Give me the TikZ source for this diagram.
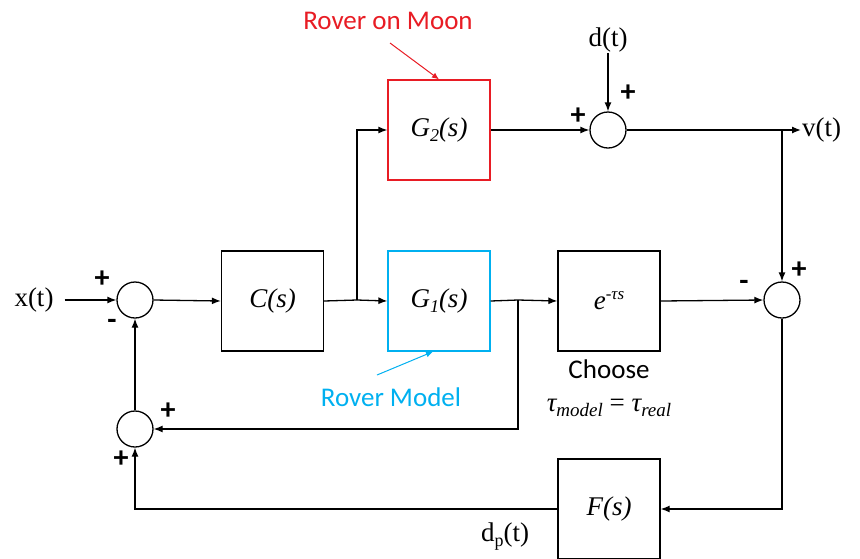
\documentclass[tikz,border=0pt]{standalone}
\usepackage{fontspec}
\setmainfont{Liberation Serif}
\newfontfamily\calibri{Carlito}
\usetikzlibrary{arrows.meta,calc}
\definecolor{rred}{RGB}{232,28,36}
\definecolor{rblue}{RGB}{0,176,240}
\begin{document}
\begin{tikzpicture}[x=1pt,y=-1pt,
  blk/.style={draw, line width=1.3pt, minimum width=102pt, minimum height=100pt, inner sep=0pt, font=\fontsize{27}{27}\selectfont\itshape},
  sumc/.style={circle, draw, line width=1.3pt, minimum size=36pt, inner sep=0pt},
  arr/.style={-{Latex[length=9pt,width=7pt]}, line width=1.3pt},
  ln/.style={line width=1.3pt},
  sig/.style={font=\fontsize{27}{27}\selectfont, inner sep=1pt},
  sgn/.style={font=\calibri\bfseries\fontsize{30}{30}\selectfont, inner sep=0pt},
  cal/.style={font=\calibri\fontsize{27}{27}\selectfont, inner sep=0pt}]
\useasboundingbox (0,0) rectangle (860,558);
% blocks
\node[blk] (C) at (272.5,301) {C(s)};
\node[blk, draw=rblue] (G1) at (439,301) {G\raisebox{-5pt}{\fontsize{18}{18}\selectfont 1}(s)};
\node[blk, draw=rred] (G2) at (439,130) {G\raisebox{-5pt}{\fontsize{18}{18}\selectfont 2}(s)};
\node[blk] (E) at (609,301) {e\raisebox{10pt}{\fontsize{17}{17}\selectfont -τs}};
\node[blk] (F) at (609,509) {F(s)};
% summing junctions
\node[sumc] (s1) at (135,300) {};
\node[sumc] (s2) at (135,429) {};
\node[sumc] (s3) at (782,300) {};
\node[sumc] (st) at (608,130) {};
% signals
\node[sig] (xt) at (34,300) {x(t)};
\node[sig] (dt) at (608,40) {d(t)};
\node[sig, anchor=west] (vt) at (801,130) {v(t)};
\node[sig] (dp) at (505,537) {d\raisebox{-5pt}{\fontsize{18}{18}\selectfont p}(t)};
% branch points
\coordinate (b1) at (357,300);
\coordinate (b2) at (518,300);
\coordinate (b3) at (782,130);
% connectors
\draw[arr] ([xshift=10pt]xt.east) -- (s1.west);
\draw[arr] (s1.east) -- (C.west);
\draw[ln] (C.east) -- (b1);
\draw[arr] (b1) -- (G1.west);
\draw[arr] (b1) |- (G2.west);
\draw[arr] (G2.east) -- (st.west);
\draw[arr] (dt.south) -- (st.north);
\draw[arr] (st.east) -- (vt.west);
\draw[arr] (b3) -- (s3.north);
\draw[ln] (G1.east) -- (b2);
\draw[arr] (b2) -- (E.west);
\draw[arr] (b2) |- (s2.east);
\draw[arr] (E.east) -- (s3.west);
\draw[arr] (s3.south) |- (F.east);
\draw[arr] (F.west) -| (s2.south);
\draw[arr] (s2.north) -- (s1.south);
% signs
\node[sgn] (p1) at (102,279) {+};
\node[sgn] (m1) at (112,324) {-};
\node[sgn] (p2) at (168,411) {+};
\node[sgn] (p3) at (121,459) {+};
\node[sgn] (m3) at (744,285) {-};
\node[sgn] (p4) at (799,270) {+};
\node[sgn] (p5) at (578,116) {+};
\node[sgn] (p6) at (628,93) {+};
% annotations
\node[cal, text=rred] (rmoon) at (388,21) {Rover on Moon};
\coordinate (rmp) at (390,43);
\draw[rred, line width=1pt, -{Latex[length=7pt,width=6pt]}] (rmp) -- (G2.north);
\node[cal, text=rblue] (rmod) at (391,397) {Rover Model};
\coordinate (rbp) at (377,375);
\draw[rblue, line width=1pt, -{Latex[length=7pt,width=6pt]}] (rbp) -- ($(G1.south)+(-6,0)$);
\node[cal] (choose) at (609,369) {Choose};
\node[sig] (tau) at (609,408) {\itshape τ\raisebox{-5pt}{\fontsize{19}{19}\selectfont model} \upshape= \itshape τ\raisebox{-5pt}{\fontsize{19}{19}\selectfont real}};
\end{tikzpicture}
\end{document}
